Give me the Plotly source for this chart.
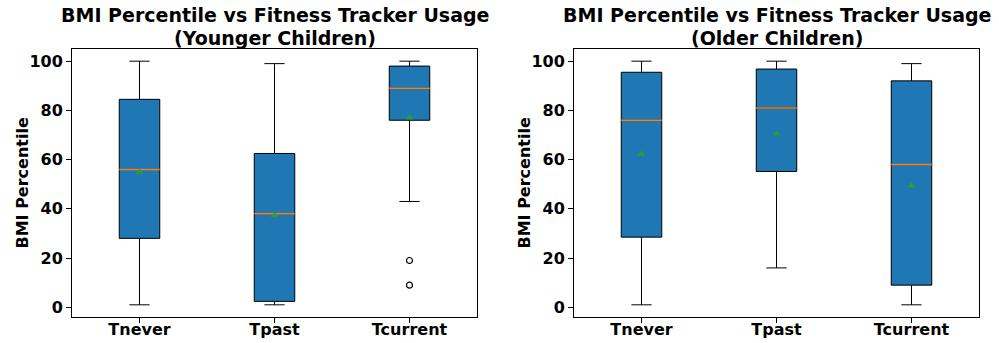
import plotly.graph_objects as go

categories = ["Tnever", "Tpast", "Tcurrent"]
positions = [1, 2, 3]

# Younger children
young_low = [1, 1, 43]
young_q1 = [28, 2.4, 76]
young_med = [56, 38, 89]
young_q3 = [84.5, 62.5, 98]
young_high = [100, 99, 100]
young_mean = [55, 37.3, 77]
young_out_x = [3, 3]
young_out_y = [19, 9]

# Older children
old_low = [1, 16, 1]
old_q1 = [28.5, 55.2, 9]
old_med = [76, 81, 58]
old_q3 = [95.5, 96.8, 92]
old_high = [100, 100, 99]
old_mean = [62.3, 70.5, 49.5]

title_line1 = "BMI Percentile vs Fitness Tracker Usage"
title_line2 = ["(Younger Children)", "(Older Children)"]
y_label = "BMI Percentile"

W, H = 999, 343
FONT = "DejaVu Sans"
BOX_W = 0.3


def px_x(x):
    return x / W


def px_y(y):
    return 1 - y / H


fig = go.Figure()

domains = [(px_x(72), px_x(477)), (px_x(574), px_x(979))]
ydom = (px_y(317), px_y(49))
ylabel_x = [21.5, 523.5]

groups = [
    (young_low, young_q1, young_med, young_q3, young_high, young_mean, young_out_x, young_out_y),
    (old_low, old_q1, old_med, old_q3, old_high, old_mean, [], []),
]

for gi, (lo, q1, med, q3, hi, mn, ox, oy) in enumerate(groups):
    xa = "x" if gi == 0 else "x2"
    ya = "y" if gi == 0 else "y2"
    for i, p in enumerate(positions):
        fig.add_trace(go.Box(
            x=[p], q1=[q1[i]], median=[med[i]], q3=[q3[i]],
            lowerfence=[lo[i]], upperfence=[hi[i]],
            width=BOX_W, whiskerwidth=0.5,
            fillcolor="#1f77b4", line=dict(color="black", width=1),
            boxpoints=False, showlegend=False, hoverinfo="skip",
            xaxis=xa, yaxis=ya,
        ))
        fig.add_trace(go.Scatter(
            x=[p - BOX_W / 2, p + BOX_W / 2], y=[med[i], med[i]],
            mode="lines", line=dict(color="#ff7f0e", width=1.5),
            showlegend=False, hoverinfo="skip", xaxis=xa, yaxis=ya,
        ))
    fig.add_trace(go.Scatter(
        x=positions, y=mn, mode="markers",
        marker=dict(symbol="triangle-up", color="#2ca02c", size=7),
        showlegend=False, hoverinfo="skip", xaxis=xa, yaxis=ya,
    ))
    if ox:
        fig.add_trace(go.Scatter(
            x=ox, y=oy, mode="markers",
            marker=dict(symbol="circle-open", color="black", size=6, line=dict(width=1.2)),
            showlegend=False, hoverinfo="skip", xaxis=xa, yaxis=ya,
        ))

axis_common = dict(showline=True, linecolor="black", linewidth=1, mirror=True,
                   ticks="outside", ticklen=5, tickcolor="black", showgrid=False,
                   zeroline=False, tickfont=dict(family=FONT, size=16, color="black"))

for gi in range(2):
    sfx = "" if gi == 0 else "2"
    fig.update_layout(**{
        "xaxis" + sfx: dict(domain=domains[gi], range=[0.5, 3.5], tickvals=positions,
                            ticktext=[f"<b>{c}</b>" for c in categories],
                            ticklabelstandoff=-7,
                            anchor="y" + sfx, automargin=False, **axis_common),
        "yaxis" + sfx: dict(domain=ydom, range=[-3.95, 104.95], tickvals=[0, 20, 40, 60, 80, 100],
                            ticktext=[f"<b>{v}</b>" for v in [0, 20, 40, 60, 80, 100]],
                            anchor="x" + sfx, automargin=False, **axis_common),
    })
    cx = (domains[gi][0] + domains[gi][1]) / 2
    fig.add_annotation(
        text=f"<b>{title_line1}</b>", xref="paper", yref="paper",
        x=cx, y=px_y(15), xanchor="center", yanchor="middle", showarrow=False,
        font=dict(family=FONT, size=19, color="black"), borderpad=0,
    )
    fig.add_annotation(
        text=f"<b>{title_line2[gi]}</b>", xref="paper", yref="paper",
        x=cx, y=px_y(38), xanchor="center", yanchor="middle", showarrow=False,
        font=dict(family=FONT, size=19, color="black"), borderpad=0,
    )
    fig.add_annotation(
        text=f"<b>{y_label}</b>", xref="paper", yref="paper",
        x=px_x(ylabel_x[gi]), y=(ydom[0] + ydom[1]) / 2, textangle=-90,
        xanchor="center", yanchor="middle", showarrow=False,
        font=dict(family=FONT, size=16, color="black"), borderpad=0,
    )

fig.update_layout(width=W, height=H, margin=dict(l=0, r=0, t=0, b=0, autoexpand=False),
                  paper_bgcolor="white", plot_bgcolor="white",
                  font=dict(family=FONT, color="black"))

fig.write_html("out.html", config={"displayModeBar": False},
               post_script="document.body.style.margin='0';")
